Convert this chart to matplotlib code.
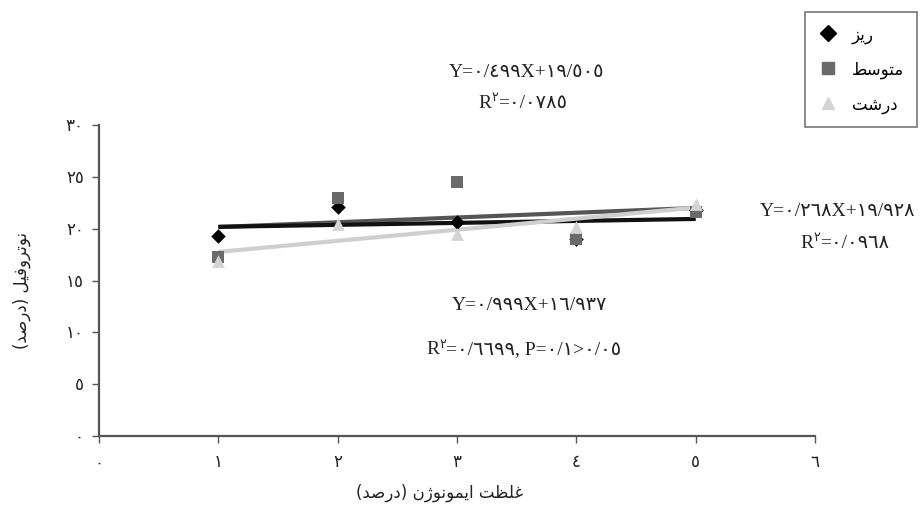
import numpy as np
import matplotlib
matplotlib.use("Agg")
import matplotlib.pyplot as plt
from matplotlib.lines import Line2D

# --- data ---
x_vals = [1, 2, 3, 4, 5]
fine = [19.3, 22.1, 20.6, 19.0, 21.8]       # ریز
medium = [17.3, 23.0, 24.5, 19.0, 21.6]     # متوسط
coarse = [16.9, 20.5, 19.5, 20.2, 22.4]     # درشت
x_ticks = [0, 1, 2, 3, 4, 5, 6]
y_ticks = [0, 5, 10, 15, 20, 25, 30]

eq_fine = ("Y=0/268X+19/928", "0/0968")
eq_medium = ("Y=0/499X+19/505", "0/0785")
eq_coarse = ("Y=0/999X+16/937", "0/6699, P=0/1>0/05")

# --- minimal arabic shaping (presentation forms + visual order) ---
FORMS = {
    "ا": ("\uFE8D", "\uFE8E", None, None),
    "د": ("\uFEA9", "\uFEAA", None, None),
    "ر": ("\uFEAD", "\uFEAE", None, None),
    "ز": ("\uFEAF", "\uFEB0", None, None),
    "ژ": ("\u0698", "\uFB8B", None, None),
    "و": ("\uFEED", "\uFEEE", None, None),
    "ت": ("\uFE95", "\uFE96", "\uFE97", "\uFE98"),
    "س": ("\uFEB1", "\uFEB2", "\uFEB3", "\uFEB4"),
    "ش": ("\uFEB5", "\uFEB6", "\uFEB7", "\uFEB8"),
    "ص": ("\uFEB9", "\uFEBA", "\uFEBB", "\uFEBC"),
    "ط": ("\uFEC1", "\uFEC2", "\uFEC3", "\uFEC4"),
    "ظ": ("\uFEC5", "\uFEC6", "\uFEC7", "\uFEC8"),
    "غ": ("\uFECD", "\uFECE", "\uFECF", "\uFED0"),
    "ف": ("\uFED1", "\uFED2", "\uFED3", "\uFED4"),
    "ل": ("\uFEDD", "\uFEDE", "\uFEDF", "\uFEE0"),
    "م": ("\uFEE1", "\uFEE2", "\uFEE3", "\uFEE4"),
    "ن": ("\uFEE5", "\uFEE6", "\uFEE7", "\uFEE8"),
    "ی": ("\uFBFC", "\uFBFD", "\uFEF3", "\uFEF4"),
}


def shape(word):
    out = []
    for i, c in enumerate(word):
        f = FORMS.get(c)
        if f is None:
            out.append(c)
            continue
        prev = word[i - 1] if i > 0 else None
        nxt = word[i + 1] if i + 1 < len(word) else None
        jp = prev in FORMS and FORMS[prev][2] is not None
        jn = f[2] is not None and nxt in FORMS
        if jp and jn:
            out.append(f[3])
        elif jp:
            out.append(f[1])
        elif jn:
            out.append(f[2])
        else:
            out.append(f[0])
    return "".join(reversed(out))


def ar(s):
    return s.translate(str.maketrans("0123456789", "٠١٢٣٤٥٦٧٨٩"))


SERIF = ["Liberation Serif", "DejaVu Sans"]
AR = ["DejaVu Sans"]
TXT = "#222222"

fig = plt.figure(figsize=(9.21, 5.07), dpi=100)
ax = fig.add_axes([0.1075, 0.140, 0.7775, 0.6134])

lines = [
    (medium, "s", "#6a6a6a", "#555555", shape("متوسط")),
    (fine, "D", "#000000", "#111111", shape("ریز")),
    (coarse, "^", "#d4d4d4", "#cfcfcf", shape("درشت")),
]
xs = np.array(x_vals, dtype=float)
for ys, mk, mc, lc, lab in lines:
    k, b = np.polyfit(xs, ys, 1)
    ax.plot([xs.min(), xs.max()], [k * xs.min() + b, k * xs.max() + b],
            color=lc, lw=3, solid_capstyle="butt", zorder=2)
for ys, mk, mc, lc, lab in [lines[1], lines[0], lines[2]]:
    size = {"D": 55, "s": 70, "^": 85}[mk]
    ax.scatter(x_vals, ys, marker=mk, s=size, color=mc, zorder=3, linewidths=0)

ax.set_xlim(0, 6)
ax.set_ylim(0, 30)
ax.set_xticks(x_ticks)
ax.set_xticklabels([ar(str(v)) for v in x_ticks], family=SERIF, fontsize=12, color=TXT)
ax.set_yticks(y_ticks)
ax.set_yticklabels([ar(str(v)) for v in y_ticks], family=SERIF, fontsize=12, color=TXT)
ax.tick_params(axis="both", direction="out", length=5, width=1, color="#555555")
ax.tick_params(axis="x", pad=9)
ax.tick_params(axis="y", pad=6)
for s in ["top", "right"]:
    ax.spines[s].set_visible(False)
for s in ["left", "bottom"]:
    ax.spines[s].set_color("#555555")
    ax.spines[s].set_linewidth(1.6)

# axis labels (RTL, visual order)
fig.text(440 / 921, 1 - 493 / 507,
         "(" + shape("درصد") + ") " + shape("ایمونوژن") + " " + shape("غلظت"),
         family=AR, fontsize=12, color=TXT, ha="center", va="center")
fig.text(22 / 921, 1 - 290 / 507,
         "(" + shape("درصد") + ") " + shape("نوتروفیل"),
         family=AR, fontsize=12, color=TXT, ha="center", va="center", rotation=90)


# trendline equations
def eq(xp, yp, xr, y2p, e):
    fig.text(xp / 921, 1 - yp / 507, ar(e[0]), family=SERIF, fontsize=14,
             color=TXT, ha="center", va="center")
    t1 = fig.text(xr / 921, 1 - y2p / 507, "R", family=SERIF, fontsize=14,
                  color=TXT, ha="left", va="center")
    t2 = ax.annotate(ar("2"), xy=(1, 0.78), xycoords=t1, family=SERIF,
                     fontsize=9, color=TXT, ha="left", va="center")
    ax.annotate("=" + ar(e[1]), xy=(1, 0.5), xycoords=(t2, t1), family=SERIF,
                fontsize=14, color=TXT, ha="left", va="center")


eq(527, 72, 478, 103, eq_medium)
eq(838, 212, 800, 243, eq_fine)
eq(530, 305, 426, 350, eq_coarse)

handles = [
    Line2D([], [], ls="none", marker="D", color="#000000", markersize=8, label=shape("ریز")),
    Line2D([], [], ls="none", marker="s", color="#6a6a6a", markersize=8, label=shape("متوسط")),
    Line2D([], [], ls="none", marker="^", color="#d4d4d4", markersize=9, label=shape("درشت")),
]
leg = fig.legend(handles=handles, loc="upper left", bbox_to_anchor=(805 / 921, 1 - 12 / 507),
                 bbox_transform=fig.transFigure, frameon=True, fancybox=False,
                 borderaxespad=0, edgecolor="#555555", prop={"family": AR, "size": 12},
                 labelspacing=1.0, handletextpad=0.8, borderpad=0.8,
                 handlelength=1.2)
leg.get_frame().set_linewidth(1.2)

fig.savefig("out.png", dpi=100)
